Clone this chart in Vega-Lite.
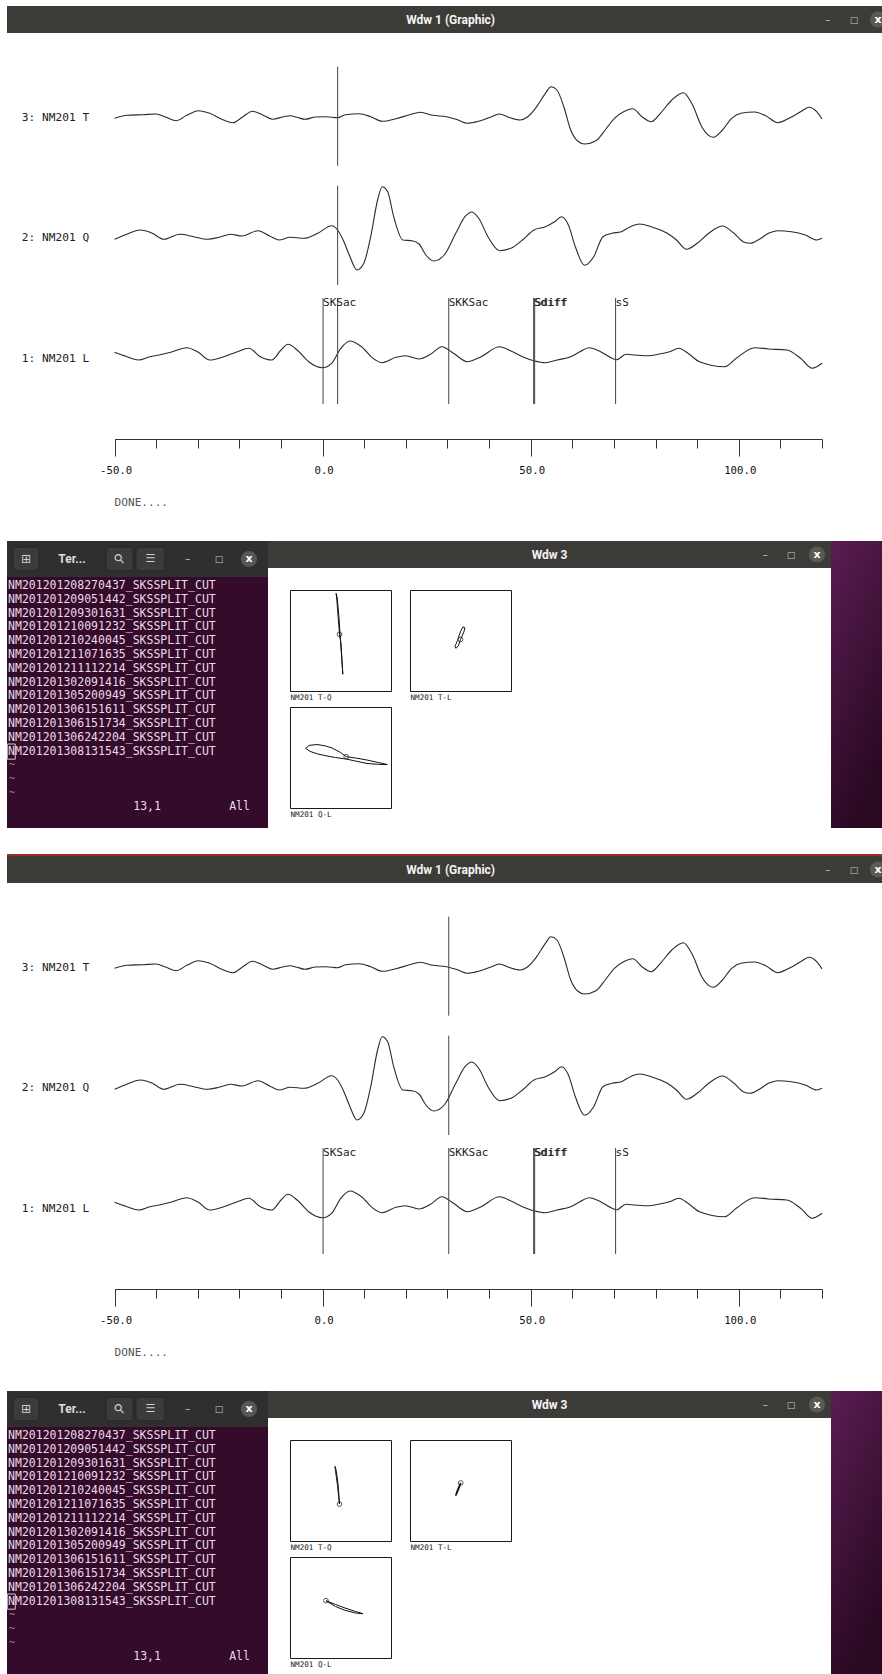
{
"$schema":"https://vega.github.io/schema/vega-lite/v6.json",
"background":"white",
"padding":{"left":6,"top":6,"right":0,"bottom":0},
"spacing":0,
"config":{"view":{"stroke":null},"concat":{"spacing":0},"axis":{"grid":false}},
"resolve":{"scale":{"x":"independent","y":"independent"}},
"datasets":{
"traces":[
{"comp":"T","t":-50,"amp":-0.3},{"comp":"T","t":-47,"amp":2.7},{"comp":"T","t":-43.15,"amp":3.3},{"comp":"T","t":-40.06,"amp":4},{"comp":"T","t":-37.63,"amp":0.7},{"comp":"T","t":-35.19,"amp":-2.7},{"comp":"T","t":-32.65,"amp":2.7},{"comp":"T","t":-29.89,"amp":7.3},{"comp":"T","t":-27.13,"amp":4.7},{"comp":"T","t":-24.37,"amp":-1},{"comp":"T","t":-21.6,"amp":-4.7},{"comp":"T","t":-19.17,"amp":1.3},{"comp":"T","t":-16.85,"amp":6.7},{"comp":"T","t":-14.42,"amp":3},{"comp":"T","t":-12,"amp":-1.3},{"comp":"T","t":-9.45,"amp":1.3},{"comp":"T","t":-7.79,"amp":2.3},{"comp":"T","t":-6.13,"amp":0.7},{"comp":"T","t":-4.26,"amp":-1.3},{"comp":"T","t":-1.71,"amp":1},{"comp":"T","t":0.83,"amp":1.3},{"comp":"T","t":3.59,"amp":0.3},{"comp":"T","t":5.47,"amp":3.3},{"comp":"T","t":8.78,"amp":4.3},{"comp":"T","t":11.55,"amp":1.3},{"comp":"T","t":14.31,"amp":-3.3},{"comp":"T","t":17.62,"amp":-0.7},{"comp":"T","t":20.94,"amp":3.3},{"comp":"T","t":23.48,"amp":5.7},{"comp":"T","t":26.46,"amp":2.7},{"comp":"T","t":29.78,"amp":1.3},{"comp":"T","t":32.54,"amp":-2},{"comp":"T","t":34.75,"amp":-5.3},{"comp":"T","t":37.51,"amp":-3.3},{"comp":"T","t":40.28,"amp":0.7},{"comp":"T","t":42.49,"amp":4},{"comp":"T","t":44.7,"amp":0.7},{"comp":"T","t":47.46,"amp":-2},{"comp":"T","t":49.12,"amp":0.7},{"comp":"T","t":51.32,"amp":10.7},{"comp":"T","t":53.53,"amp":24.7},{"comp":"T","t":54.86,"amp":31.3},{"comp":"T","t":56.3,"amp":28},{"comp":"T","t":57.95,"amp":11.3},{"comp":"T","t":59.61,"amp":-12},{"comp":"T","t":61.27,"amp":-23},{"comp":"T","t":62.93,"amp":-26},{"comp":"T","t":65.69,"amp":-22.7},{"comp":"T","t":67.9,"amp":-12},{"comp":"T","t":70.11,"amp":-0.3},{"comp":"T","t":72.32,"amp":6.3},{"comp":"T","t":74.53,"amp":9.3},{"comp":"T","t":76.74,"amp":1.3},{"comp":"T","t":78.95,"amp":-3.7},{"comp":"T","t":81.16,"amp":4.7},{"comp":"T","t":83.92,"amp":18},{"comp":"T","t":86.68,"amp":25.3},{"comp":"T","t":88.89,"amp":13},{"comp":"T","t":91.1,"amp":-8.7},{"comp":"T","t":93.87,"amp":-19.3},{"comp":"T","t":96.08,"amp":-12},{"comp":"T","t":98.29,"amp":-0.3},{"comp":"T","t":100.5,"amp":4.7},{"comp":"T","t":103.81,"amp":6},{"comp":"T","t":106.57,"amp":2},{"comp":"T","t":109.34,"amp":-4.7},{"comp":"T","t":112.1,"amp":-0.3},{"comp":"T","t":114.86,"amp":6.3},{"comp":"T","t":116.85,"amp":10.7},{"comp":"T","t":118.73,"amp":6.3},{"comp":"T","t":120,"amp":-1},
{"comp":"Q","t":-50,"amp":-1.3},{"comp":"Q","t":-47.57,"amp":3},{"comp":"Q","t":-43.7,"amp":8},{"comp":"Q","t":-40.94,"amp":4.7},{"comp":"Q","t":-38.18,"amp":-1.3},{"comp":"Q","t":-34.31,"amp":3.7},{"comp":"Q","t":-31,"amp":1.3},{"comp":"Q","t":-27.68,"amp":-1.3},{"comp":"Q","t":-24.92,"amp":0.7},{"comp":"Q","t":-22.16,"amp":3.7},{"comp":"Q","t":-19.39,"amp":2},{"comp":"Q","t":-15.53,"amp":7.3},{"comp":"Q","t":-12.76,"amp":2},{"comp":"Q","t":-10.55,"amp":-2},{"comp":"Q","t":-7.79,"amp":0.7},{"comp":"Q","t":-4.48,"amp":-0.3},{"comp":"Q","t":-1.16,"amp":4.7},{"comp":"Q","t":2.15,"amp":12.3},{"comp":"Q","t":3.59,"amp":8},{"comp":"Q","t":4.92,"amp":-2},{"comp":"Q","t":6.57,"amp":-18.7},{"comp":"Q","t":8.23,"amp":-32},{"comp":"Q","t":9.89,"amp":-25.3},{"comp":"Q","t":11.55,"amp":1.3},{"comp":"Q","t":13.2,"amp":38},{"comp":"Q","t":14.31,"amp":51.3},{"comp":"Q","t":15.63,"amp":46.3},{"comp":"Q","t":17.07,"amp":21.3},{"comp":"Q","t":19.28,"amp":-2},{"comp":"Q","t":21.49,"amp":-2.7},{"comp":"Q","t":23.15,"amp":-6},{"comp":"Q","t":24.8,"amp":-17},{"comp":"Q","t":26.68,"amp":-23},{"comp":"Q","t":29.23,"amp":-17},{"comp":"Q","t":31.99,"amp":4.7},{"comp":"Q","t":34.2,"amp":21.3},{"comp":"Q","t":35.86,"amp":26},{"comp":"Q","t":37.51,"amp":19.7},{"comp":"Q","t":39.72,"amp":1.3},{"comp":"Q","t":42.49,"amp":-12.7},{"comp":"Q","t":45.25,"amp":-10.3},{"comp":"Q","t":48.01,"amp":-2},{"comp":"Q","t":50.77,"amp":8},{"comp":"Q","t":53.53,"amp":11.3},{"comp":"Q","t":55.74,"amp":16.3},{"comp":"Q","t":57.4,"amp":21.3},{"comp":"Q","t":59.06,"amp":13},{"comp":"Q","t":60.72,"amp":-8.7},{"comp":"Q","t":62.93,"amp":-27.3},{"comp":"Q","t":65.14,"amp":-18.7},{"comp":"Q","t":67.35,"amp":1.3},{"comp":"Q","t":69.56,"amp":4.7},{"comp":"Q","t":71.77,"amp":6.3},{"comp":"Q","t":73.98,"amp":11.3},{"comp":"Q","t":76.19,"amp":14},{"comp":"Q","t":78.95,"amp":11.3},{"comp":"Q","t":82.82,"amp":4.7},{"comp":"Q","t":85.03,"amp":-2},{"comp":"Q","t":87.46,"amp":-11.3},{"comp":"Q","t":90,"amp":-5.3},{"comp":"Q","t":92.76,"amp":4.7},{"comp":"Q","t":96.08,"amp":12},{"comp":"Q","t":98.84,"amp":4.7},{"comp":"Q","t":101.05,"amp":-3.7},{"comp":"Q","t":102.71,"amp":-5.3},{"comp":"Q","t":104.92,"amp":-1.3},{"comp":"Q","t":107.13,"amp":4.7},{"comp":"Q","t":109.34,"amp":7.3},{"comp":"Q","t":112.65,"amp":6.3},{"comp":"Q","t":115.97,"amp":3},{"comp":"Q","t":118.73,"amp":-2},{"comp":"Q","t":120,"amp":-0.3},
{"comp":"L","t":-50,"amp":6.7},{"comp":"L","t":-47,"amp":2.3},{"comp":"L","t":-44.26,"amp":-1},{"comp":"L","t":-41.49,"amp":2.3},{"comp":"L","t":-39.28,"amp":4},{"comp":"L","t":-36.52,"amp":6.7},{"comp":"L","t":-32.65,"amp":11.3},{"comp":"L","t":-29.89,"amp":6.7},{"comp":"L","t":-27.13,"amp":-1},{"comp":"L","t":-23.81,"amp":2.3},{"comp":"L","t":-20.5,"amp":7.3},{"comp":"L","t":-17.74,"amp":10.7},{"comp":"L","t":-14.97,"amp":2.3},{"comp":"L","t":-12.21,"amp":-1},{"comp":"L","t":-10,"amp":9},{"comp":"L","t":-8.34,"amp":14.7},{"comp":"L","t":-6.13,"amp":9},{"comp":"L","t":-3.37,"amp":-2.7},{"comp":"L","t":-0.06,"amp":-8.7},{"comp":"L","t":2.15,"amp":-4.3},{"comp":"L","t":4.36,"amp":10.7},{"comp":"L","t":6.57,"amp":18},{"comp":"L","t":9.34,"amp":12.3},{"comp":"L","t":12.1,"amp":0.7},{"comp":"L","t":14.31,"amp":-3.7},{"comp":"L","t":17.62,"amp":1.7},{"comp":"L","t":19.83,"amp":3.3},{"comp":"L","t":23.15,"amp":0},{"comp":"L","t":25.91,"amp":4.7},{"comp":"L","t":28.67,"amp":12.3},{"comp":"L","t":31.43,"amp":5.7},{"comp":"L","t":34.75,"amp":-2.7},{"comp":"L","t":38.07,"amp":2.3},{"comp":"L","t":42.49,"amp":12.3},{"comp":"L","t":45.25,"amp":8},{"comp":"L","t":48.01,"amp":2.3},{"comp":"L","t":50.77,"amp":-1.7},{"comp":"L","t":53.53,"amp":-3.7},{"comp":"L","t":56.3,"amp":-1},{"comp":"L","t":59.61,"amp":2.3},{"comp":"L","t":61.82,"amp":7.3},{"comp":"L","t":64.03,"amp":11.3},{"comp":"L","t":66.8,"amp":7.3},{"comp":"L","t":69.56,"amp":0.7},{"comp":"L","t":70.66,"amp":-0.7},{"comp":"L","t":72.87,"amp":4.7},{"comp":"L","t":75.08,"amp":4},{"comp":"L","t":78.4,"amp":3.3},{"comp":"L","t":80.61,"amp":4.7},{"comp":"L","t":83.37,"amp":7.3},{"comp":"L","t":85.58,"amp":10.7},{"comp":"L","t":87.79,"amp":5.7},{"comp":"L","t":90.55,"amp":-2.7},{"comp":"L","t":96.63,"amp":-7.7},{"comp":"L","t":99.39,"amp":0.7},{"comp":"L","t":103.81,"amp":11.3},{"comp":"L","t":107.13,"amp":10},{"comp":"L","t":111.55,"amp":9},{"comp":"L","t":114.86,"amp":0.7},{"comp":"L","t":117.63,"amp":-9.3},{"comp":"L","t":120,"amp":-4.3}
],
"phases":[{"phase":"SKSac","t":0.1},{"phase":"SKKSac","t":30.3},{"phase":"Sdiff","t":50.7},{"phase":"Sdiff","t":50.95},{"phase":"sS","t":70.4}],
"files":[
{"n":1,"name":"NM201201208270437_SKSSPLIT_CUT"},{"n":2,"name":"NM201201209051442_SKSSPLIT_CUT"},{"n":3,"name":"NM201201209301631_SKSSPLIT_CUT"},{"n":4,"name":"NM201201210091232_SKSSPLIT_CUT"},{"n":5,"name":"NM201201210240045_SKSSPLIT_CUT"},{"n":6,"name":"NM201201211071635_SKSSPLIT_CUT"},{"n":7,"name":"NM201201211112214_SKSSPLIT_CUT"},{"n":8,"name":"NM201201302091416_SKSSPLIT_CUT"},{"n":9,"name":"NM201201305200949_SKSSPLIT_CUT"},{"n":10,"name":"NM201201306151611_SKSSPLIT_CUT"},{"n":11,"name":"NM201201306151734_SKSSPLIT_CUT"},{"n":12,"name":"NM201201306242204_SKSSPLIT_CUT"},{"n":13,"name":"NM201201308131543_SKSSPLIT_CUT"}
],
"pm":[
{"shot":1,"pair":"T-Q","i":0,"u":-0.02,"v":0.123},{"shot":1,"pair":"T-Q","i":1,"u":-0.045,"v":0.45},{"shot":1,"pair":"T-Q","i":2,"u":-0.072,"v":0.8},{"shot":1,"pair":"T-Q","i":3,"u":-0.087,"v":0.935},{"shot":1,"pair":"T-Q","i":4,"u":-0.066,"v":0.85},{"shot":1,"pair":"T-Q","i":5,"u":-0.03,"v":0.45},{"shot":1,"pair":"T-Q","i":6,"u":0,"v":0},{"shot":1,"pair":"T-Q","i":7,"u":0.025,"v":-0.35},{"shot":1,"pair":"T-Q","i":8,"u":0.046,"v":-0.667},{"shot":1,"pair":"T-Q","i":9,"u":0.03,"v":-0.4},{"shot":1,"pair":"T-Q","i":10,"u":0.008,"v":-0.05},{"shot":1,"pair":"T-Q","i":11,"u":-0.02,"v":0.123},
{"shot":1,"pair":"T-L","i":0,"u":0,"v":0.02},{"shot":1,"pair":"T-L","i":1,"u":0.06,"v":0.15},{"shot":1,"pair":"T-L","i":2,"u":0.09,"v":0.25},{"shot":1,"pair":"T-L","i":3,"u":0.05,"v":0.27},{"shot":1,"pair":"T-L","i":4,"u":0,"v":0.18},{"shot":1,"pair":"T-L","i":5,"u":-0.06,"v":0},{"shot":1,"pair":"T-L","i":6,"u":-0.11,"v":-0.12},{"shot":1,"pair":"T-L","i":7,"u":-0.09,"v":-0.155},{"shot":1,"pair":"T-L","i":8,"u":-0.04,"v":-0.1},{"shot":1,"pair":"T-L","i":9,"u":0,"v":0.02},
{"shot":1,"pair":"Q-L","i":0,"u":0.113,"v":0.016},{"shot":1,"pair":"Q-L","i":1,"u":0.3,"v":-0.01},{"shot":1,"pair":"Q-L","i":2,"u":0.525,"v":-0.05},{"shot":1,"pair":"Q-L","i":3,"u":0.75,"v":-0.1},{"shot":1,"pair":"Q-L","i":4,"u":0.927,"v":-0.139},{"shot":1,"pair":"Q-L","i":5,"u":0.75,"v":-0.135},{"shot":1,"pair":"Q-L","i":6,"u":0.525,"v":-0.119},{"shot":1,"pair":"Q-L","i":7,"u":0.3,"v":-0.07},{"shot":1,"pair":"Q-L","i":8,"u":0.109,"v":-0.03},{"shot":1,"pair":"Q-L","i":9,"u":-0.1,"v":0},{"shot":1,"pair":"Q-L","i":10,"u":-0.267,"v":0.03},{"shot":1,"pair":"Q-L","i":11,"u":-0.45,"v":0.07},{"shot":1,"pair":"Q-L","i":12,"u":-0.6,"v":0.12},{"shot":1,"pair":"Q-L","i":13,"u":-0.69,"v":0.18},{"shot":1,"pair":"Q-L","i":14,"u":-0.62,"v":0.24},{"shot":1,"pair":"Q-L","i":15,"u":-0.465,"v":0.257},{"shot":1,"pair":"Q-L","i":16,"u":-0.3,"v":0.23},{"shot":1,"pair":"Q-L","i":17,"u":-0.168,"v":0.188},{"shot":1,"pair":"Q-L","i":18,"u":0,"v":0.1},{"shot":1,"pair":"Q-L","i":19,"u":0.113,"v":0.016},
{"shot":2,"pair":"T-Q","i":0,"u":-0.02,"v":-0.269},{"shot":2,"pair":"T-Q","i":1,"u":-0.06,"v":0.1},{"shot":2,"pair":"T-Q","i":2,"u":-0.1,"v":0.4},{"shot":2,"pair":"T-Q","i":3,"u":-0.109,"v":0.479},{"shot":2,"pair":"T-Q","i":4,"u":-0.085,"v":0.4},{"shot":2,"pair":"T-Q","i":5,"u":-0.045,"v":0.1},{"shot":2,"pair":"T-Q","i":6,"u":-0.02,"v":-0.269},
{"shot":2,"pair":"T-L","i":0,"u":0.004,"v":0.149},{"shot":2,"pair":"T-L","i":1,"u":-0.05,"v":0.03},{"shot":2,"pair":"T-L","i":2,"u":-0.097,"v":-0.103},{"shot":2,"pair":"T-L","i":3,"u":-0.08,"v":-0.07},{"shot":2,"pair":"T-L","i":4,"u":-0.035,"v":0.04},{"shot":2,"pair":"T-L","i":5,"u":0.004,"v":0.149},
{"shot":2,"pair":"Q-L","i":0,"u":-0.287,"v":0.135},{"shot":2,"pair":"Q-L","i":1,"u":-0.1,"v":0.06},{"shot":2,"pair":"Q-L","i":2,"u":0.089,"v":-0.01},{"shot":2,"pair":"Q-L","i":3,"u":0.3,"v":-0.08},{"shot":2,"pair":"Q-L","i":4,"u":0.446,"v":-0.123},{"shot":2,"pair":"Q-L","i":5,"u":0.3,"v":-0.11},{"shot":2,"pair":"Q-L","i":6,"u":0.089,"v":-0.056},{"shot":2,"pair":"Q-L","i":7,"u":-0.1,"v":0.02},{"shot":2,"pair":"Q-L","i":8,"u":-0.287,"v":0.135}
]
},
"vconcat":[
{"width":876,"height":27,"view":{"fill":"#3d3b38","stroke":null},"data":{"values":[{"label":"Wdw 1 (Graphic)"}]},
 "layer":[
  {"mark":{"type":"text","font":"Roboto","fontSize":12,"fontWeight":"bold","color":"#f4f4f4"},"encoding":{"x":{"datum":0.5064,"type":"quantitative","scale":{"domain":[0,1],"nice":false,"zero":false},"axis":null},"text":{"field":"label"}}},
  {"mark":{"type":"text","text":"–","font":"DejaVu Sans","fontSize":10,"color":"#c8c8c8"},"encoding":{"x":{"datum":0.937}}},
  {"mark":{"type":"text","text":"□","font":"DejaVu Sans","fontSize":9,"color":"#c8c8c8"},"encoding":{"x":{"datum":0.967}}},
  {"mark":{"type":"point","shape":"circle","filled":true,"size":260,"color":"#5a5955","opacity":1,"clip":true},"encoding":{"x":{"datum":0.9943}}},
  {"mark":{"type":"text","text":"x","font":"DejaVu Sans","fontSize":11,"fontWeight":"bold","color":"#ffffff","clip":true},"encoding":{"x":{"datum":0.9943}}}
 ]},
{"width":876,"height":145,
 "layer":[
  {"data":{"name":"traces"},"transform":[{"filter":{"field":"comp","equal":"T"}}],"mark":{"type":"line","color":"#2a2a2a","strokeWidth":1.1,"interpolate":"monotone"},
   "encoding":{"x":{"field":"t","type":"quantitative","title":null,"scale":{"domain":[-50,120],"range":[107.6,815],"nice":false,"zero":false},"axis":null},"y":{"field":"amp","type":"quantitative","title":null,"scale":{"domain":[-60,85],"nice":false,"zero":false},"axis":null}}},
  {"data":{"values":[{"t":3.6}]},"mark":{"type":"rule","color":"#444","strokeWidth":1},"encoding":{"x":{"field":"t","type":"quantitative","title":null},"y":{"datum":51.3},"y2":{"datum":-47.7}}},
  {"data":{"values":[{"label":"3: NM201 T"}]},"mark":{"type":"text","align":"left","baseline":"middle","font":"DejaVu Sans Mono","fontSize":11.2,"color":"#1e1e1e"},"encoding":{"x":{"datum":-72.3},"y":{"datum":0},"text":{"field":"label"}}}
 ]},
{"width":876,"height":112,
 "layer":[
  {"data":{"name":"traces"},"transform":[{"filter":{"field":"comp","equal":"Q"}}],"mark":{"type":"line","color":"#2a2a2a","strokeWidth":1.1,"interpolate":"monotone"},
   "encoding":{"x":{"field":"t","type":"quantitative","title":null,"scale":{"domain":[-50,120],"range":[107.6,815],"nice":false,"zero":false},"axis":null},"y":{"field":"amp","type":"quantitative","title":null,"scale":{"domain":[-52,60],"nice":false,"zero":false},"axis":null}}},
  {"data":{"values":[{"t":3.6}]},"mark":{"type":"rule","color":"#444","strokeWidth":1},"encoding":{"x":{"field":"t","type":"quantitative","title":null},"y":{"datum":52.3},"y2":{"datum":-47}}},
  {"data":{"values":[{"label":"2: NM201 Q"}]},"mark":{"type":"text","align":"left","baseline":"middle","font":"DejaVu Sans Mono","fontSize":11.2,"color":"#1e1e1e"},"encoding":{"x":{"datum":-72.3},"y":{"datum":0},"text":{"field":"label"}}}
 ]},
{"width":876,"height":251,
 "layer":[
  {"data":{"name":"traces"},"transform":[{"filter":{"field":"comp","equal":"L"}}],"mark":{"type":"line","color":"#2a2a2a","strokeWidth":1.1,"interpolate":"monotone"},
   "encoding":{"x":{"field":"t","type":"quantitative","title":null,"scale":{"domain":[-50,120],"range":[107.6,815],"nice":false,"zero":false},
     "axis":{"values":[-50,-40,-30,-20,-10,0,10,20,30,40,50,60,70,80,90,100,110,120],"offset":-102,"domainColor":"#333","domainWidth":1,"tickColor":"#333","tickWidth":1,"tickSize":{"condition":{"test":"datum.value % 50 === 0","value":17},"value":9},"labelExpr":"datum.value % 50 === 0 ? (datum.value < 0 ? '-' : '') + format(abs(datum.value), '.1f') : ''","labelFont":"DejaVu Sans Mono","labelFontSize":10.7,"labelColor":"#111","labelPadding":9,"labelOffset":1,"labelFlush":false,"labelOverlap":false,"labelBound":false,"grid":false,"title":null}},
    "y":{"field":"amp","type":"quantitative","title":null,"scale":{"domain":[-182,69],"nice":false,"zero":false},"axis":null}}},
  {"data":{"name":"phases"},"mark":{"type":"rule","color":"#444","strokeWidth":1},"encoding":{"x":{"field":"t","type":"quantitative","title":null},"y":{"datum":61},"y2":{"datum":-45}}},
  {"data":{"values":[{"t":3.6}]},"mark":{"type":"rule","color":"#444","strokeWidth":1},"encoding":{"x":{"field":"t","type":"quantitative","title":null},"y":{"datum":61},"y2":{"datum":-45}}},
  {"data":{"name":"phases"},"mark":{"type":"text","align":"left","baseline":"alphabetic","font":"DejaVu Sans Mono","fontSize":11,"color":"#222"},"encoding":{"x":{"field":"t","type":"quantitative","title":null},"y":{"datum":53.5},"text":{"field":"phase"}}},
  {"data":{"values":[{"label":"1: NM201 L"}]},"mark":{"type":"text","align":"left","baseline":"middle","font":"DejaVu Sans Mono","fontSize":11.2,"color":"#1e1e1e"},"encoding":{"x":{"datum":-72.3},"y":{"datum":0},"text":{"field":"label"}}},
  {"data":{"values":[{"label":"DONE...."}]},"mark":{"type":"text","align":"left","baseline":"middle","font":"DejaVu Sans Mono","fontSize":11.1,"color":"#555"},"encoding":{"x":{"datum":-50},"y":{"datum":-143.5},"text":{"field":"label"}}}
 ]},
{"hconcat":[
  {"vconcat":[
    {"width":261,"height":36,"view":{"fill":"#2f2f2f","stroke":null},"data":{"values":[{"label":"Ter..."}]},
     "layer":[
      {"mark":{"type":"rect","color":"#3b3b3b","cornerRadius":4,"stroke":"#262626","strokeWidth":1},"encoding":{"x":{"datum":0.023,"type":"quantitative","scale":{"domain":[0,1],"nice":false,"zero":false},"axis":null},"x2":{"datum":0.123},"y":{"datum":0.83,"type":"quantitative","scale":{"domain":[0,1],"nice":false,"zero":false},"axis":null},"y2":{"datum":0.17}}},
      {"mark":{"type":"rect","color":"#3b3b3b","cornerRadius":4,"stroke":"#262626","strokeWidth":1},"encoding":{"x":{"datum":0.379},"x2":{"datum":0.483},"y":{"datum":0.83},"y2":{"datum":0.17}}},
      {"mark":{"type":"rect","color":"#3b3b3b","cornerRadius":4,"stroke":"#262626","strokeWidth":1},"encoding":{"x":{"datum":0.494},"x2":{"datum":0.605},"y":{"datum":0.83},"y2":{"datum":0.17}}},
      {"mark":{"type":"text","text":"⊞","font":"DejaVu Sans","fontSize":12,"color":"#cfcfcf"},"encoding":{"x":{"datum":0.073}}},
      {"mark":{"type":"text","font":"Roboto","fontSize":12,"fontWeight":"bold","color":"#dcdcdc"},"encoding":{"x":{"datum":0.249},"text":{"field":"label"}}},
      {"mark":{"type":"text","text":"⚲","font":"DejaVu Sans","fontSize":13,"angle":315,"color":"#cfcfcf"},"encoding":{"x":{"datum":0.431}}},
      {"mark":{"type":"text","text":"☰","font":"DejaVu Sans","fontSize":11,"color":"#cfcfcf"},"encoding":{"x":{"datum":0.55}}},
      {"mark":{"type":"text","text":"–","font":"DejaVu Sans","fontSize":10,"color":"#c8c8c8"},"encoding":{"x":{"datum":0.693}}},
      {"mark":{"type":"text","text":"□","font":"DejaVu Sans","fontSize":9,"color":"#c8c8c8"},"encoding":{"x":{"datum":0.812}}},
      {"mark":{"type":"point","shape":"circle","filled":true,"size":260,"color":"#575757","opacity":1},"encoding":{"x":{"datum":0.927}}},
      {"mark":{"type":"text","text":"x","font":"DejaVu Sans","fontSize":11,"fontWeight":"bold","color":"#ffffff"},"encoding":{"x":{"datum":0.927}}}
     ]},
    {"width":261,"height":251,"view":{"fill":"#340b2b","stroke":null},
     "layer":[
      {"data":{"name":"files"},"mark":{"type":"text","align":"left","baseline":"middle","font":"DejaVu Sans Mono","fontSize":11.5,"color":"#e9dbe5"},"encoding":{"x":{"datum":0.15,"type":"quantitative","scale":{"domain":[0,37.83],"nice":false,"zero":false},"axis":null},"y":{"field":"n","type":"quantitative","scale":{"domain":[0.348,18.536],"reverse":true,"nice":false,"zero":false},"axis":null},"text":{"field":"name"}}},
      {"data":{"values":[{"n":14},{"n":15},{"n":16}]},"mark":{"type":"text","text":"~","align":"left","baseline":"middle","font":"DejaVu Sans Mono","fontSize":10,"color":"#a77e9d"},"encoding":{"x":{"datum":0.3},"y":{"field":"n","type":"quantitative"}}},
      {"data":{"values":[{"n":17,"col":18.3,"s":"13,1"},{"n":17,"col":32.2,"s":"All"}]},"mark":{"type":"text","align":"left","baseline":"middle","font":"DejaVu Sans Mono","fontSize":11.5,"color":"#e9dbe5"},"encoding":{"x":{"field":"col","type":"quantitative"},"y":{"field":"n","type":"quantitative"},"text":{"field":"s"}}},
      {"data":{"values":[{}]},"mark":{"type":"rect","filled":false,"color":"#d8c5d2","strokeWidth":1},"encoding":{"x":{"datum":0.05},"x2":{"datum":1.2},"y":{"datum":12.45},"y2":{"datum":13.55}}}
     ]}
   ],"spacing":0,"resolve":{"scale":{"x":"independent","y":"independent"}}},
  {"vconcat":[
    {"width":563,"height":27,"view":{"fill":"#3d3b38","stroke":null},"data":{"values":[{"label":"Wdw 3"}]},
     "layer":[
      {"mark":{"type":"text","font":"Roboto","fontSize":12,"fontWeight":"bold","color":"#f4f4f4"},"encoding":{"x":{"datum":0.5,"type":"quantitative","scale":{"domain":[0,1],"nice":false,"zero":false},"axis":null},"text":{"field":"label"}}},
      {"mark":{"type":"text","text":"–","font":"DejaVu Sans","fontSize":10,"color":"#c8c8c8"},"encoding":{"x":{"datum":0.883}}},
      {"mark":{"type":"text","text":"□","font":"DejaVu Sans","fontSize":9,"color":"#c8c8c8"},"encoding":{"x":{"datum":0.929}}},
      {"mark":{"type":"point","shape":"circle","filled":true,"size":260,"color":"#5a5955","opacity":1},"encoding":{"x":{"datum":0.975}}},
      {"mark":{"type":"text","text":"x","font":"DejaVu Sans","fontSize":11,"fontWeight":"bold","color":"#ffffff"},"encoding":{"x":{"datum":0.975}}}
     ]},
    {"hconcat":[
      {"width":21,"height":1,"data":{"values":[{}]},"mark":{"type":"point","size":0,"strokeWidth":0,"opacity":0}},
      {"vconcat":[
        {"hconcat":[
          {"width":101,"height":101,"view":{"stroke":"#1a1a1a","strokeWidth":1,"fill":"white"},"data":{"name":"pm"},"transform":[{"filter":"datum.shot === 1 && datum.pair === 'T-Q'"}],
           "layer":[
            {"mark":{"type":"line","color":"#111","strokeWidth":1},"encoding":{"x":{"field":"u","type":"quantitative","title":"NM201 T-Q","scale":{"domain":[-1,1],"nice":false,"zero":false},"axis":{"labels":false,"ticks":false,"domain":false,"grid":false,"titleAnchor":"start","titleAlign":"left","titleFont":"DejaVu Sans Mono","titleFontSize":7.6,"titleFontWeight":"normal","titleColor":"#222","titlePadding":2}},"y":{"field":"v","type":"quantitative","scale":{"domain":[-1,1],"nice":false,"zero":false},"axis":null},"order":{"field":"i","type":"quantitative"}}},
            {"transform":[{"filter":"datum.i === 0"}],"mark":{"type":"point","shape":"circle","size":22,"filled":false,"color":"#111","strokeWidth":1},"encoding":{"x":{"field":"u","type":"quantitative","title":"NM201 T-Q"},"y":{"field":"v","type":"quantitative"}}}
           ]},
          {"width":101,"height":101,"view":{"stroke":"#1a1a1a","strokeWidth":1,"fill":"white"},"data":{"name":"pm"},"transform":[{"filter":"datum.shot === 1 && datum.pair === 'T-L'"}],
           "layer":[
            {"mark":{"type":"line","color":"#111","strokeWidth":1},"encoding":{"x":{"field":"u","type":"quantitative","title":"NM201 T-L","scale":{"domain":[-1,1],"nice":false,"zero":false},"axis":{"labels":false,"ticks":false,"domain":false,"grid":false,"titleAnchor":"start","titleAlign":"left","titleFont":"DejaVu Sans Mono","titleFontSize":7.6,"titleFontWeight":"normal","titleColor":"#222","titlePadding":2}},"y":{"field":"v","type":"quantitative","scale":{"domain":[-1,1],"nice":false,"zero":false},"axis":null},"order":{"field":"i","type":"quantitative"}}},
            {"transform":[{"filter":"datum.i === 0"}],"mark":{"type":"point","shape":"circle","size":22,"filled":false,"color":"#111","strokeWidth":1},"encoding":{"x":{"field":"u","type":"quantitative","title":"NM201 T-L"},"y":{"field":"v","type":"quantitative"}}}
           ]}
         ],"spacing":17,"resolve":{"scale":{"x":"independent","y":"independent"}}},
        {"width":101,"height":101,"view":{"stroke":"#1a1a1a","strokeWidth":1,"fill":"white"},"data":{"name":"pm"},"transform":[{"filter":"datum.shot === 1 && datum.pair === 'Q-L'"}],
         "layer":[
          {"mark":{"type":"line","color":"#111","strokeWidth":1},"encoding":{"x":{"field":"u","type":"quantitative","title":"NM201 Q-L","scale":{"domain":[-1,1],"nice":false,"zero":false},"axis":{"labels":false,"ticks":false,"domain":false,"grid":false,"titleAnchor":"start","titleAlign":"left","titleFont":"DejaVu Sans Mono","titleFontSize":7.6,"titleFontWeight":"normal","titleColor":"#222","titlePadding":2}},"y":{"field":"v","type":"quantitative","scale":{"domain":[-1,1],"nice":false,"zero":false},"axis":null},"order":{"field":"i","type":"quantitative"}}},
          {"transform":[{"filter":"datum.i === 0"}],"mark":{"type":"point","shape":"circle","size":22,"filled":false,"color":"#111","strokeWidth":1},"encoding":{"x":{"field":"u","type":"quantitative","title":"NM201 Q-L"},"y":{"field":"v","type":"quantitative"}}}
         ]}
       ],"spacing":4,"resolve":{"scale":{"x":"independent","y":"independent"}}}
     ],"spacing":0,"resolve":{"scale":{"x":"independent","y":"independent"}}}
   ],"spacing":21,"resolve":{"scale":{"x":"independent","y":"independent"}}},
  {"width":52,"height":287,"data":{"values":[{}]},"mark":{"type":"rect","color":{"gradient":"linear","x1":0,"y1":0,"x2":0.4,"y2":1,"stops":[{"offset":0,"color":"#5a1d52"},{"offset":1,"color":"#2a0923"}]}},"encoding":{"x":{"datum":0,"type":"quantitative","scale":{"domain":[0,1],"nice":false,"zero":false},"axis":null},"x2":{"datum":1},"y":{"datum":0,"type":"quantitative","scale":{"domain":[0,1],"nice":false,"zero":false},"axis":null},"y2":{"datum":1}}}
 ],"spacing":0,"resolve":{"scale":{"x":"independent","y":"independent"}}},
{"width":876,"height":26,"data":{"values":[{}]},"mark":{"type":"point","size":0,"strokeWidth":0,"opacity":0}},
{"width":876,"height":2,"view":{"fill":"#9e2f27","stroke":null},"data":{"values":[{}]},"mark":{"type":"point","size":0,"strokeWidth":0,"opacity":0}},
{"width":876,"height":27,"view":{"fill":"#3d3b38","stroke":null},"data":{"values":[{"label":"Wdw 1 (Graphic)"}]},
 "layer":[
  {"mark":{"type":"text","font":"Roboto","fontSize":12,"fontWeight":"bold","color":"#f4f4f4"},"encoding":{"x":{"datum":0.5064,"type":"quantitative","scale":{"domain":[0,1],"nice":false,"zero":false},"axis":null},"text":{"field":"label"}}},
  {"mark":{"type":"text","text":"–","font":"DejaVu Sans","fontSize":10,"color":"#c8c8c8"},"encoding":{"x":{"datum":0.937}}},
  {"mark":{"type":"text","text":"□","font":"DejaVu Sans","fontSize":9,"color":"#c8c8c8"},"encoding":{"x":{"datum":0.967}}},
  {"mark":{"type":"point","shape":"circle","filled":true,"size":260,"color":"#5a5955","opacity":1,"clip":true},"encoding":{"x":{"datum":0.9943}}},
  {"mark":{"type":"text","text":"x","font":"DejaVu Sans","fontSize":11,"fontWeight":"bold","color":"#ffffff","clip":true},"encoding":{"x":{"datum":0.9943}}}
 ]},
{"width":876,"height":145,
 "layer":[
  {"data":{"name":"traces"},"transform":[{"filter":{"field":"comp","equal":"T"}}],"mark":{"type":"line","color":"#2a2a2a","strokeWidth":1.1,"interpolate":"monotone"},
   "encoding":{"x":{"field":"t","type":"quantitative","title":null,"scale":{"domain":[-50,120],"range":[107.6,815],"nice":false,"zero":false},"axis":null},"y":{"field":"amp","type":"quantitative","title":null,"scale":{"domain":[-60,85],"nice":false,"zero":false},"axis":null}}},
  {"data":{"values":[{"t":30.3}]},"mark":{"type":"rule","color":"#444","strokeWidth":1},"encoding":{"x":{"field":"t","type":"quantitative","title":null},"y":{"datum":51.3},"y2":{"datum":-47.7}}},
  {"data":{"values":[{"label":"3: NM201 T"}]},"mark":{"type":"text","align":"left","baseline":"middle","font":"DejaVu Sans Mono","fontSize":11.2,"color":"#1e1e1e"},"encoding":{"x":{"datum":-72.3},"y":{"datum":0},"text":{"field":"label"}}}
 ]},
{"width":876,"height":112,
 "layer":[
  {"data":{"name":"traces"},"transform":[{"filter":{"field":"comp","equal":"Q"}}],"mark":{"type":"line","color":"#2a2a2a","strokeWidth":1.1,"interpolate":"monotone"},
   "encoding":{"x":{"field":"t","type":"quantitative","title":null,"scale":{"domain":[-50,120],"range":[107.6,815],"nice":false,"zero":false},"axis":null},"y":{"field":"amp","type":"quantitative","title":null,"scale":{"domain":[-52,60],"nice":false,"zero":false},"axis":null}}},
  {"data":{"values":[{"t":30.3}]},"mark":{"type":"rule","color":"#444","strokeWidth":1},"encoding":{"x":{"field":"t","type":"quantitative","title":null},"y":{"datum":52.3},"y2":{"datum":-47}}},
  {"data":{"values":[{"label":"2: NM201 Q"}]},"mark":{"type":"text","align":"left","baseline":"middle","font":"DejaVu Sans Mono","fontSize":11.2,"color":"#1e1e1e"},"encoding":{"x":{"datum":-72.3},"y":{"datum":0},"text":{"field":"label"}}}
 ]},
{"width":876,"height":251,
 "layer":[
  {"data":{"name":"traces"},"transform":[{"filter":{"field":"comp","equal":"L"}}],"mark":{"type":"line","color":"#2a2a2a","strokeWidth":1.1,"interpolate":"monotone"},
   "encoding":{"x":{"field":"t","type":"quantitative","title":null,"scale":{"domain":[-50,120],"range":[107.6,815],"nice":false,"zero":false},
     "axis":{"values":[-50,-40,-30,-20,-10,0,10,20,30,40,50,60,70,80,90,100,110,120],"offset":-102,"domainColor":"#333","domainWidth":1,"tickColor":"#333","tickWidth":1,"tickSize":{"condition":{"test":"datum.value % 50 === 0","value":17},"value":9},"labelExpr":"datum.value % 50 === 0 ? (datum.value < 0 ? '-' : '') + format(abs(datum.value), '.1f') : ''","labelFont":"DejaVu Sans Mono","labelFontSize":10.7,"labelColor":"#111","labelPadding":9,"labelOffset":1,"labelFlush":false,"labelOverlap":false,"labelBound":false,"grid":false,"title":null}},
    "y":{"field":"amp","type":"quantitative","title":null,"scale":{"domain":[-182,69],"nice":false,"zero":false},"axis":null}}},
  {"data":{"name":"phases"},"mark":{"type":"rule","color":"#444","strokeWidth":1},"encoding":{"x":{"field":"t","type":"quantitative","title":null},"y":{"datum":61},"y2":{"datum":-45}}},
  {"data":{"name":"phases"},"mark":{"type":"text","align":"left","baseline":"alphabetic","font":"DejaVu Sans Mono","fontSize":11,"color":"#222"},"encoding":{"x":{"field":"t","type":"quantitative","title":null},"y":{"datum":53.5},"text":{"field":"phase"}}},
  {"data":{"values":[{"label":"1: NM201 L"}]},"mark":{"type":"text","align":"left","baseline":"middle","font":"DejaVu Sans Mono","fontSize":11.2,"color":"#1e1e1e"},"encoding":{"x":{"datum":-72.3},"y":{"datum":0},"text":{"field":"label"}}},
  {"data":{"values":[{"label":"DONE...."}]},"mark":{"type":"text","align":"left","baseline":"middle","font":"DejaVu Sans Mono","fontSize":11.1,"color":"#555"},"encoding":{"x":{"datum":-50},"y":{"datum":-143.5},"text":{"field":"label"}}}
 ]},
{"hconcat":[
  {"vconcat":[
    {"width":261,"height":36,"view":{"fill":"#2f2f2f","stroke":null},"data":{"values":[{"label":"Ter..."}]},
     "layer":[
      {"mark":{"type":"rect","color":"#3b3b3b","cornerRadius":4,"stroke":"#262626","strokeWidth":1},"encoding":{"x":{"datum":0.023,"type":"quantitative","scale":{"domain":[0,1],"nice":false,"zero":false},"axis":null},"x2":{"datum":0.123},"y":{"datum":0.83,"type":"quantitative","scale":{"domain":[0,1],"nice":false,"zero":false},"axis":null},"y2":{"datum":0.17}}},
      {"mark":{"type":"rect","color":"#3b3b3b","cornerRadius":4,"stroke":"#262626","strokeWidth":1},"encoding":{"x":{"datum":0.379},"x2":{"datum":0.483},"y":{"datum":0.83},"y2":{"datum":0.17}}},
      {"mark":{"type":"rect","color":"#3b3b3b","cornerRadius":4,"stroke":"#262626","strokeWidth":1},"encoding":{"x":{"datum":0.494},"x2":{"datum":0.605},"y":{"datum":0.83},"y2":{"datum":0.17}}},
      {"mark":{"type":"text","text":"⊞","font":"DejaVu Sans","fontSize":12,"color":"#cfcfcf"},"encoding":{"x":{"datum":0.073}}},
      {"mark":{"type":"text","font":"Roboto","fontSize":12,"fontWeight":"bold","color":"#dcdcdc"},"encoding":{"x":{"datum":0.249},"text":{"field":"label"}}},
      {"mark":{"type":"text","text":"⚲","font":"DejaVu Sans","fontSize":13,"angle":315,"color":"#cfcfcf"},"encoding":{"x":{"datum":0.431}}},
      {"mark":{"type":"text","text":"☰","font":"DejaVu Sans","fontSize":11,"color":"#cfcfcf"},"encoding":{"x":{"datum":0.55}}},
      {"mark":{"type":"text","text":"–","font":"DejaVu Sans","fontSize":10,"color":"#c8c8c8"},"encoding":{"x":{"datum":0.693}}},
      {"mark":{"type":"text","text":"□","font":"DejaVu Sans","fontSize":9,"color":"#c8c8c8"},"encoding":{"x":{"datum":0.812}}},
      {"mark":{"type":"point","shape":"circle","filled":true,"size":260,"color":"#575757","opacity":1},"encoding":{"x":{"datum":0.927}}},
      {"mark":{"type":"text","text":"x","font":"DejaVu Sans","fontSize":11,"fontWeight":"bold","color":"#ffffff"},"encoding":{"x":{"datum":0.927}}}
     ]},
    {"width":261,"height":247,"view":{"fill":"#340b2b","stroke":null},
     "layer":[
      {"data":{"name":"files"},"mark":{"type":"text","align":"left","baseline":"middle","font":"DejaVu Sans Mono","fontSize":11.5,"color":"#e9dbe5"},"encoding":{"x":{"datum":0.15,"type":"quantitative","scale":{"domain":[0,37.83],"nice":false,"zero":false},"axis":null},"y":{"field":"n","type":"quantitative","scale":{"domain":[0.348,18.246],"reverse":true,"nice":false,"zero":false},"axis":null},"text":{"field":"name"}}},
      {"data":{"values":[{"n":14},{"n":15},{"n":16}]},"mark":{"type":"text","text":"~","align":"left","baseline":"middle","font":"DejaVu Sans Mono","fontSize":10,"color":"#a77e9d"},"encoding":{"x":{"datum":0.3},"y":{"field":"n","type":"quantitative"}}},
      {"data":{"values":[{"n":17,"col":18.3,"s":"13,1"},{"n":17,"col":32.2,"s":"All"}]},"mark":{"type":"text","align":"left","baseline":"middle","font":"DejaVu Sans Mono","fontSize":11.5,"color":"#e9dbe5"},"encoding":{"x":{"field":"col","type":"quantitative"},"y":{"field":"n","type":"quantitative"},"text":{"field":"s"}}},
      {"data":{"values":[{}]},"mark":{"type":"rect","filled":false,"color":"#d8c5d2","strokeWidth":1},"encoding":{"x":{"datum":0.05},"x2":{"datum":1.2},"y":{"datum":12.45},"y2":{"datum":13.55}}}
     ]}
   ],"spacing":0,"resolve":{"scale":{"x":"independent","y":"independent"}}},
  {"vconcat":[
    {"width":563,"height":27,"view":{"fill":"#3d3b38","stroke":null},"data":{"values":[{"label":"Wdw 3"}]},
     "layer":[
      {"mark":{"type":"text","font":"Roboto","fontSize":12,"fontWeight":"bold","color":"#f4f4f4"},"encoding":{"x":{"datum":0.5,"type":"quantitative","scale":{"domain":[0,1],"nice":false,"zero":false},"axis":null},"text":{"field":"label"}}},
      {"mark":{"type":"text","text":"–","font":"DejaVu Sans","fontSize":10,"color":"#c8c8c8"},"encoding":{"x":{"datum":0.883}}},
      {"mark":{"type":"text","text":"□","font":"DejaVu Sans","fontSize":9,"color":"#c8c8c8"},"encoding":{"x":{"datum":0.929}}},
      {"mark":{"type":"point","shape":"circle","filled":true,"size":260,"color":"#5a5955","opacity":1},"encoding":{"x":{"datum":0.975}}},
      {"mark":{"type":"text","text":"x","font":"DejaVu Sans","fontSize":11,"fontWeight":"bold","color":"#ffffff"},"encoding":{"x":{"datum":0.975}}}
     ]},
    {"hconcat":[
      {"width":21,"height":1,"data":{"values":[{}]},"mark":{"type":"point","size":0,"strokeWidth":0,"opacity":0}},
      {"vconcat":[
        {"hconcat":[
          {"width":101,"height":101,"view":{"stroke":"#1a1a1a","strokeWidth":1,"fill":"white"},"data":{"name":"pm"},"transform":[{"filter":"datum.shot === 2 && datum.pair === 'T-Q'"}],
           "layer":[
            {"mark":{"type":"line","color":"#111","strokeWidth":1},"encoding":{"x":{"field":"u","type":"quantitative","title":"NM201 T-Q","scale":{"domain":[-1,1],"nice":false,"zero":false},"axis":{"labels":false,"ticks":false,"domain":false,"grid":false,"titleAnchor":"start","titleAlign":"left","titleFont":"DejaVu Sans Mono","titleFontSize":7.6,"titleFontWeight":"normal","titleColor":"#222","titlePadding":2}},"y":{"field":"v","type":"quantitative","scale":{"domain":[-1,1],"nice":false,"zero":false},"axis":null},"order":{"field":"i","type":"quantitative"}}},
            {"transform":[{"filter":"datum.i === 0"}],"mark":{"type":"point","shape":"circle","size":22,"filled":false,"color":"#111","strokeWidth":1},"encoding":{"x":{"field":"u","type":"quantitative","title":"NM201 T-Q"},"y":{"field":"v","type":"quantitative"}}}
           ]},
          {"width":101,"height":101,"view":{"stroke":"#1a1a1a","strokeWidth":1,"fill":"white"},"data":{"name":"pm"},"transform":[{"filter":"datum.shot === 2 && datum.pair === 'T-L'"}],
           "layer":[
            {"mark":{"type":"line","color":"#111","strokeWidth":1.6},"encoding":{"x":{"field":"u","type":"quantitative","title":"NM201 T-L","scale":{"domain":[-1,1],"nice":false,"zero":false},"axis":{"labels":false,"ticks":false,"domain":false,"grid":false,"titleAnchor":"start","titleAlign":"left","titleFont":"DejaVu Sans Mono","titleFontSize":7.6,"titleFontWeight":"normal","titleColor":"#222","titlePadding":2}},"y":{"field":"v","type":"quantitative","scale":{"domain":[-1,1],"nice":false,"zero":false},"axis":null},"order":{"field":"i","type":"quantitative"}}},
            {"transform":[{"filter":"datum.i === 0"}],"mark":{"type":"point","shape":"circle","size":22,"filled":false,"color":"#111","strokeWidth":1},"encoding":{"x":{"field":"u","type":"quantitative","title":"NM201 T-L"},"y":{"field":"v","type":"quantitative"}}}
           ]}
         ],"spacing":17,"resolve":{"scale":{"x":"independent","y":"independent"}}},
        {"width":101,"height":101,"view":{"stroke":"#1a1a1a","strokeWidth":1,"fill":"white"},"data":{"name":"pm"},"transform":[{"filter":"datum.shot === 2 && datum.pair === 'Q-L'"}],
         "layer":[
          {"mark":{"type":"line","color":"#111","strokeWidth":1},"encoding":{"x":{"field":"u","type":"quantitative","title":"NM201 Q-L","scale":{"domain":[-1,1],"nice":false,"zero":false},"axis":{"labels":false,"ticks":false,"domain":false,"grid":false,"titleAnchor":"start","titleAlign":"left","titleFont":"DejaVu Sans Mono","titleFontSize":7.6,"titleFontWeight":"normal","titleColor":"#222","titlePadding":2}},"y":{"field":"v","type":"quantitative","scale":{"domain":[-1,1],"nice":false,"zero":false},"axis":null},"order":{"field":"i","type":"quantitative"}}},
          {"transform":[{"filter":"datum.i === 0"}],"mark":{"type":"point","shape":"circle","size":22,"filled":false,"color":"#111","strokeWidth":1},"encoding":{"x":{"field":"u","type":"quantitative","title":"NM201 Q-L"},"y":{"field":"v","type":"quantitative"}}}
         ]}
       ],"spacing":4,"resolve":{"scale":{"x":"independent","y":"independent"}}}
     ],"spacing":0,"resolve":{"scale":{"x":"independent","y":"independent"}}}
   ],"spacing":21,"resolve":{"scale":{"x":"independent","y":"independent"}}},
  {"width":52,"height":283,"data":{"values":[{}]},"mark":{"type":"rect","color":{"gradient":"linear","x1":0,"y1":0,"x2":0.4,"y2":1,"stops":[{"offset":0,"color":"#5a1d52"},{"offset":1,"color":"#2a0923"}]}},"encoding":{"x":{"datum":0,"type":"quantitative","scale":{"domain":[0,1],"nice":false,"zero":false},"axis":null},"x2":{"datum":1},"y":{"datum":0,"type":"quantitative","scale":{"domain":[0,1],"nice":false,"zero":false},"axis":null},"y2":{"datum":1}}}
 ],"spacing":0,"resolve":{"scale":{"x":"independent","y":"independent"}}}
]
}
